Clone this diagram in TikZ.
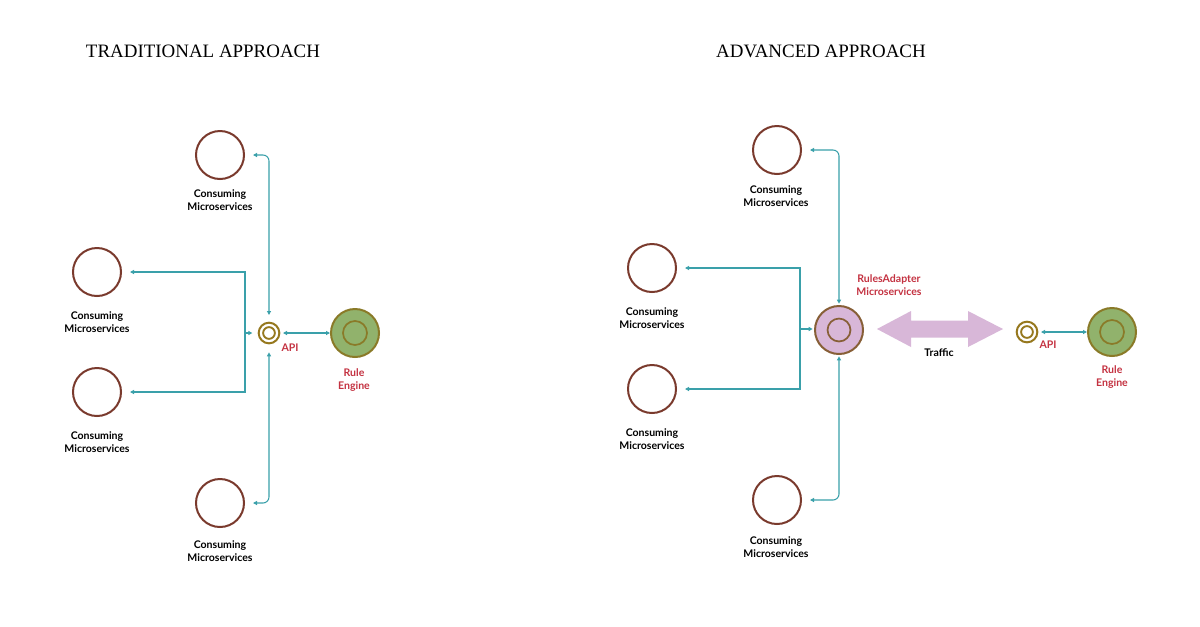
\documentclass[tikz,border=0pt]{standalone}
\usepackage{fontspec}
\setmainfont{Liberation Serif}
\newfontfamily\lblfont{Lato}
\usetikzlibrary{arrows.meta,calc}
\definecolor{cbrown}{RGB}{122,58,45}
\definecolor{cteal}{RGB}{58,160,170}
\definecolor{cgold}{RGB}{150,120,30}
\definecolor{cgreen}{RGB}{145,178,108}
\definecolor{colive}{RGB}{138,122,40}
\definecolor{cpink}{RGB}{216,183,216}
\definecolor{cpinkline}{RGB}{135,95,55}
\definecolor{cred}{RGB}{196,50,65}
\tikzset{
  svc/.style={circle,draw=cbrown,line width=1.5pt,fill=white,minimum size=36pt,inner sep=0pt},
  apinode/.style={circle,draw=cgold,line width=1.5pt,fill=white,minimum size=15.5pt,inner sep=0pt,
    path picture={\draw[cgold,line width=1.4pt] (path picture bounding box.center) circle[radius=4.4pt];}},
  engine/.style={circle,draw=colive,line width=1.5pt,fill=cgreen,minimum size=36pt,inner sep=0pt,
    path picture={\draw[colive,line width=1.3pt] (path picture bounding box.center) circle[radius=9pt];}},
  adapter/.style={circle,draw=cpinkline,line width=1.5pt,fill=cpink,minimum size=36pt,inner sep=0pt,
    path picture={\draw[cpinkline,line width=1.3pt] (path picture bounding box.center) circle[radius=8.6pt];}},
  lbl/.style={font=\lblfont\bfseries\fontsize{7.9}{10}\selectfont,align=center,inner sep=0pt},
  redlbl/.style={lbl,text=cred},
  ttl/.style={font=\fontsize{14.2}{16}\selectfont,inner sep=0pt},
  conn/.style={draw=cteal,line width=0.8pt,{Triangle[length=3pt,width=3pt]}-{Triangle[length=3pt,width=3pt]}},
  conn1/.style={draw=cteal,line width=0.8pt,-{Triangle[length=3pt,width=3pt]}},
}
\begin{document}
\begin{tikzpicture}[x=0.75pt,y=-0.75pt]
\useasboundingbox[fill=white] (0,0) rectangle (1200,626);

% ---------- TRADITIONAL ----------
\node[ttl] (t0) at (203,51) {TRADITIONAL APPROACH};
\node[svc] (t1) at (220,155) {};
\node[svc] (t2) at (97,272) {};
\node[svc] (t3) at (97,392) {};
\node[svc] (t4) at (220,503) {};
\node[lbl] (t1l) at (220,200) {Consuming\\Microservices};
\node[lbl] (t2l) at (97,322) {Consuming\\Microservices};
\node[lbl] (t3l) at (97,442) {Consuming\\Microservices};
\node[lbl] (t4l) at (220,551) {Consuming\\Microservices};
\node[apinode] (tapi) at (269,333) {};
\node[redlbl] (tapil) at (290,348) {API};
\node[engine] (tre) at (355,333) {};
\node[redlbl] (trel) at (354,380) {Rule\\Engine};
\coordinate (tj) at (245,333);

\draw[conn,rounded corners=4.5pt,shorten <=6pt,shorten >=5pt] (t1.east) -| (tapi.north);
\draw[conn,rounded corners=4.5pt,shorten <=6pt,shorten >=6pt] (t4.east) -| (tapi.south);
\draw[conn,shorten <=6pt,shorten >=6pt] (t2.east) -- (t2.east -| tj) -- (t3.east -| tj) -- (t3.east);
\draw[conn1,shorten >=4pt] (tj) -- (tapi.west);
\draw[conn,shorten <=2pt] (tapi.east) -- (tre.west);

% ---------- ADVANCED ----------
\node[ttl] (a0) at (821,51) {ADVANCED APPROACH};
\node[svc] (a1) at (777,150) {};
\node[svc] (a2) at (652,268) {};
\node[svc] (a3) at (652,389) {};
\node[svc] (a4) at (777,500) {};
\node[lbl] (a1l) at (776,196) {Consuming\\Microservices};
\node[lbl] (a2l) at (652,318) {Consuming\\Microservices};
\node[lbl] (a3l) at (652,439) {Consuming\\Microservices};
\node[lbl] (a4l) at (776,547) {Consuming\\Microservices};
\node[adapter] (ra) at (839,330) {};
\node[redlbl] (ral) at (889,285) {RulesAdapter\\Microservices};
\coordinate (aj) at (800,329);

\draw[conn,rounded corners=4.5pt,shorten <=6pt,shorten >=1pt] (a1.east) -| (ra.north);
\draw[conn,rounded corners=4.5pt,shorten <=6pt,shorten >=1pt] (a4.east) -| (ra.south);
\draw[conn,shorten <=6pt,shorten >=6pt] (a2.east) -- (a2.east -| aj) -- (a3.east -| aj) -- (a3.east);
\draw[conn1,shorten >=1pt] (aj) -- (aj -| ra.west);

% traffic double arrow
\fill[cpink] (877,329) -- (911,311) -- (911,320.5) -- (968,320.5) -- (968,311) -- (1003,329)
  -- (968,347) -- (968,337.5) -- (911,337.5) -- (911,347) -- cycle;
\node[lbl] (traffic) at (939,353) {Traffic};

\node[apinode] (aapi) at (1027,332) {};
\node[redlbl] (aapil) at (1048,345) {API};
\node[engine] (are) at (1112,332) {};
\node[redlbl] (arel) at (1112,377) {Rule\\Engine};
\draw[conn,shorten <=2pt] (aapi.east) -- (are.west);
\end{tikzpicture}
\end{document}
